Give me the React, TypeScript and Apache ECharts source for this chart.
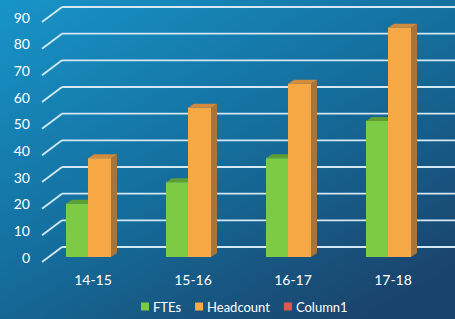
import React, { useEffect, useRef } from "react";
import * as echarts from "echarts";

const categories = ["14-15", "15-16", "16-17", "17-18"];
const ftes = [20, 28, 37, 51];
const headcount = [37, 56, 65, 86];
const column1: number[] = [];
const yTicks = [0, 10, 20, 30, 40, 50, 60, 70, 80, 90];

const DX = 6;
const DY = -4;
const FONT = "Lato";

function bar3d(offL: number, offR: number, front: string, top: string, side: string) {
  return (params: any, api: any) => {
    const cat = api.value(0);
    const v = api.value(1);
    const base = api.coord([cat, 0]);
    const tp = api.coord([cat, v]);
    const band = api.size([1, 0])[0];
    const x0 = base[0] + offL * band;
    const x1 = base[0] + offR * band;
    const yb = base[1];
    const yt = tp[1];
    return {
      type: "group",
      children: [
        {
          type: "polygon",
          shape: { points: [[x1, yt], [x1 + DX, yt + DY], [x1 + DX, yb + DY], [x1, yb]] },
          style: { fill: side },
        },
        {
          type: "polygon",
          shape: { points: [[x0, yt], [x0 + DX, yt + DY], [x1 + DX, yt + DY], [x1, yt]] },
          style: { fill: top },
        },
        {
          type: "rect",
          shape: { x: x0, y: yt, width: x1 - x0, height: yb - yt },
          style: { fill: front },
        },
      ],
    };
  };
}

export default function App() {
  const ref = useRef<HTMLDivElement>(null);
  useEffect(() => {
    if (!ref.current) return;
    const chart = echarts.init(ref.current, undefined, { renderer: "svg" });
    const lineColor = "#d3e8f3";
    chart.setOption({
      animation: false,
      backgroundColor: {
        type: "linear",
        x: 0,
        y: 0,
        x2: 0.8,
        y2: 1,
        colorStops: [
          { offset: 0, color: "#1894c9" },
          { offset: 0.5, color: "#14709f" },
          { offset: 1, color: "#1a436b" },
        ],
      },
      color: ["#7dcb45", "#f6a945", "#e0584a"],
      grid: { left: 43, right: 12, top: 17, bottom: 62 },
      legend: {
        data: ["FTEs", "Headcount", "Column1"],
        left: 136,
        bottom: 1,
        icon: "rect",
        itemWidth: 8,
        itemHeight: 8,
        itemGap: 14,
        textStyle: { color: "#ffffff", fontSize: 13, fontFamily: FONT, padding: [0, 0, 0, -1] },
      },
      xAxis: {
        type: "category",
        data: categories,
        axisLine: { show: false },
        axisTick: { show: false },
        axisLabel: { color: "#ffffff", fontSize: 14, fontFamily: FONT, margin: 15 },
      },
      yAxis: {
        type: "value",
        min: 0,
        max: 90,
        interval: 10,
        splitLine: { show: false },
        axisLine: { show: false },
        axisTick: { show: false },
        axisLabel: {
          color: "#ffffff",
          fontSize: 14,
          fontFamily: FONT,
          margin: 13,
          padding: [11, 0, 0, 0],
        },
      },
      series: [
        {
          name: "grid",
          type: "custom",
          silent: true,
          clip: false,
          z: 1,
          data: yTicks.map((t) => [0, t]),
          renderItem: (params: any, api: any) => {
            const v = api.value(1);
            const p = api.coord([0, v]);
            const cs = params.coordSys;
            const yBack = p[1] - 10;
            return {
              type: "group",
              children: [
                {
                  type: "line",
                  shape: { x1: cs.x + 19, y1: yBack, x2: cs.x + cs.width + 12, y2: yBack },
                  style: { stroke: lineColor, lineWidth: 1.8 },
                },
                {
                  type: "line",
                  shape: { x1: cs.x - 1, y1: yBack + 15, x2: cs.x + 19, y2: yBack },
                  style: { stroke: lineColor, lineWidth: 1.8 },
                },
              ],
            };
          },
        },
        {
          name: "FTEs",
          type: "custom",
          clip: false,
          z: 2,
          itemStyle: { color: "#7dcb45" },
          data: ftes.map((v, i) => [i, v]),
          renderItem: bar3d(-0.27, -0.05, "#7dcb45", "#5f9e33", "#4f8a2a"),
        },
        {
          name: "Headcount",
          type: "custom",
          clip: false,
          z: 3,
          itemStyle: { color: "#f6a945" },
          data: headcount.map((v, i) => [i, v]),
          renderItem: bar3d(-0.05, 0.18, "#f6a945", "#d28b3c", "#a8743a"),
        },
        {
          name: "Column1",
          type: "custom",
          itemStyle: { color: "#e0584a" },
          data: column1,
          renderItem: () => ({ type: "group", children: [] }),
        },
      ],
    });
    return () => chart.dispose();
  }, []);
  return (
    <div
      ref={ref}
      style={{ position: "fixed", left: 0, top: 0, width: 455, height: 319 }}
    />
  );
}
